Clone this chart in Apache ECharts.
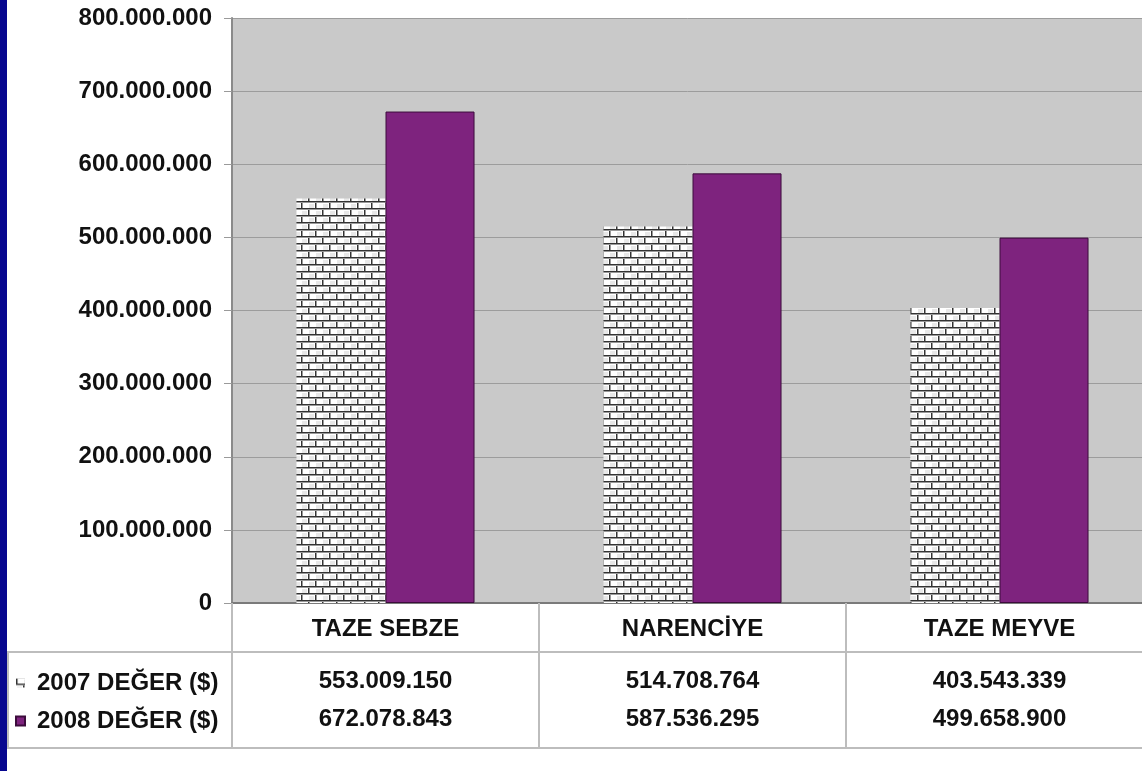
<!DOCTYPE html>
<html>
<head>
<meta charset="utf-8">
<script src="https://cdn.jsdelivr.net/npm/echarts@6/dist/echarts.min.js"></script>
<style>
  html, body { margin: 0; padding: 0; background: #fff; }
  #chart { width: 1142px; height: 771px; }
</style>
</head>
<body>
<div id="chart"></div>
<script>
// data
const categories = ['TAZE SEBZE', 'NARENCİYE', 'TAZE MEYVE'];
const seriesNames = ['2007 DEĞER ($)', '2008 DEĞER ($)'];
const values2007 = [553009150, 514708764, 403543339];
const values2008 = [672078843, 587536295, 499658900];
const yTicks = [0, 100000000, 200000000, 300000000, 400000000, 500000000, 600000000, 700000000, 800000000];

// 553009150 -> "553.009.150"
function fmt(v) {
  return String(Math.round(v)).replace(/\B(?=(\d{3})+(?!\d))/g, '.');
}

// brick pattern for the 2007 bars
function brickPattern() {
  const c = document.createElement('canvas');
  c.width = 14; c.height = 14;
  const g = c.getContext('2d');
  g.fillStyle = '#ffffff';
  g.fillRect(0, 0, 14, 14);
  g.fillStyle = '#e8e8e8';
  g.fillRect(8, 1, 5, 4);
  g.fillRect(1, 8, 5, 4);
  g.fillStyle = '#333333';
  g.fillRect(0, 5, 14, 1);
  g.fillRect(0, 12, 14, 1);
  g.fillRect(0, 0, 1, 6);
  g.fillRect(7, 7, 1, 6);
  g.fillStyle = '#9a9a9a';
  g.fillRect(0, 6, 14, 1);
  g.fillRect(0, 13, 14, 1);
  g.fillRect(1, 0, 1, 5);
  g.fillRect(8, 7, 1, 5);
  return c;
}

const font = 'Liberation Sans, Arial, sans-serif';
const txt = { fontFamily: font, fontWeight: 'bold', fontSize: 24, color: '#111' };

const chart = echarts.init(document.getElementById('chart'));
chart.setOption({
  animation: false,
  backgroundColor: '#ffffff',
  textStyle: { fontFamily: font },
  grid: {
    left: 232, top: 18, width: 921, bottom: 168,
    outerBoundsMode: 'none',
    show: true, backgroundColor: '#c9c9c9', borderWidth: 0
  },
  legend: {
    orient: 'vertical',
    left: 10, top: 666,
    itemWidth: 9, itemHeight: 9,
    itemGap: 14,
    icon: 'rect',
    textStyle: Object.assign({ padding: [0, 0, 0, 7] }, txt),
    data: seriesNames
  },
  xAxis: [
    {
      type: 'category',
      data: categories,
      axisLine: { lineStyle: { color: '#7a7a7a', width: 2 } },
      axisTick: { show: true, length: 145, lineStyle: { color: '#bdbdbd', width: 2 } },
      axisLabel: Object.assign({ margin: 14 }, txt),
      splitLine: { show: false }
    },
    {
      type: 'category',
      data: values2007.map(fmt),
      position: 'bottom',
      axisLine: { show: false },
      axisTick: { show: false },
      axisLabel: Object.assign({ margin: 66 }, txt)
    },
    {
      type: 'category',
      data: values2008.map(fmt),
      position: 'bottom',
      axisLine: { show: false },
      axisTick: { show: false },
      axisLabel: Object.assign({ margin: 104 }, txt)
    }
  ],
  yAxis: {
    type: 'value',
    min: yTicks[0],
    max: yTicks[yTicks.length - 1],
    interval: yTicks[1] - yTicks[0],
    axisLine: { show: true, lineStyle: { color: '#8a8a8a', width: 2 } },
    axisTick: { show: true, length: 8, lineStyle: { color: '#9a9a9a' } },
    axisLabel: Object.assign({ margin: 20, formatter: fmt }, txt),
    splitLine: { lineStyle: { color: '#9c9c9c', width: 1 } }
  },
  series: [
    {
      name: seriesNames[0],
      type: 'bar',
      data: values2007,
      barGap: '0%',
      barCategoryGap: '42%',
      itemStyle: { color: { image: brickPattern(), repeat: 'repeat' }, borderWidth: 0 }
    },
    {
      name: seriesNames[1],
      type: 'bar',
      data: values2008,
      itemStyle: { color: '#7e237e', borderColor: '#3c0c3c', borderWidth: 1 }
    }
  ],
  graphic: [
    { type: 'rect', shape: { x: 0, y: 0, width: 7, height: 771 }, style: { fill: '#07078f' } },
    { type: 'line', shape: { x1: 7, y1: 652, x2: 1142, y2: 652 }, style: { stroke: '#bdbdbd', lineWidth: 2 } },
    { type: 'line', shape: { x1: 7, y1: 748, x2: 1142, y2: 748 }, style: { stroke: '#bdbdbd', lineWidth: 2 } },
    { type: 'line', shape: { x1: 8, y1: 652, x2: 8, y2: 748 }, style: { stroke: '#bdbdbd', lineWidth: 2 } }
  ]
});
</script>
</body>
</html>
